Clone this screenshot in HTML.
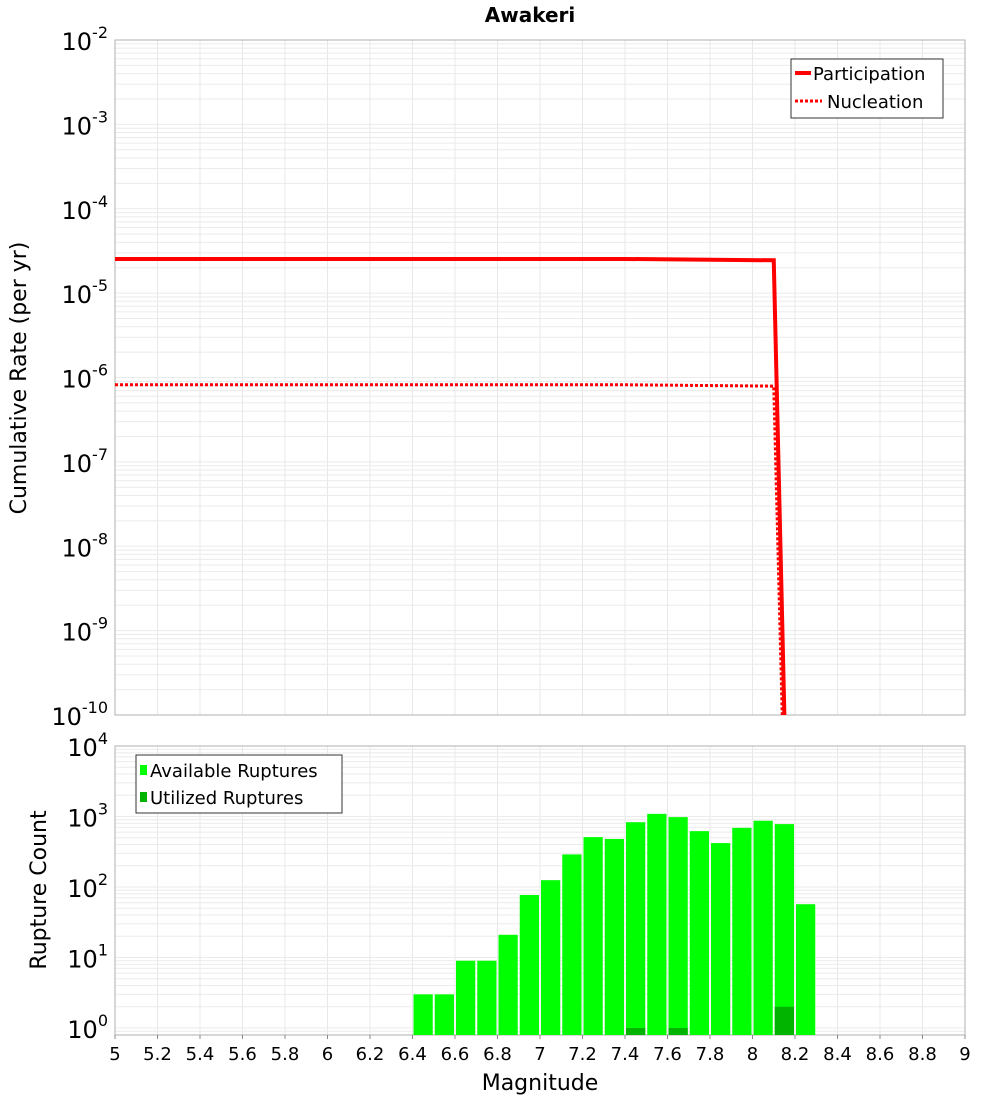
<!DOCTYPE html>
<html><head><meta charset="utf-8"><style>
body{margin:0;background:#fff;}
svg{display:block;font-family:"DejaVu Sans","Liberation Sans",sans-serif;}
</style></head><body>
<svg id="c" width="1000" height="1100" xmlns="http://www.w3.org/2000/svg">
<text x="530" y="22" text-anchor="middle" font-weight="bold" font-size="20">Awakeri</text>
<g id="topg"></g><g id="botg"></g>
</svg>
<script>
const xTicks=[5,5.2,5.4,5.6,5.8,6,6.2,6.4,6.6,6.8,7,7.2,7.4,7.6,7.8,8,8.2,8.4,8.6,8.8,9];
const partMag=[5,7.4,8.1,8.15];
const partRate=[2.54e-5,2.54e-5,2.45e-5,1e-10];
const nuclMag=[5,7.4,8.1,8.14];
const nuclRate=[8.2e-7,8.2e-7,7.9e-7,1e-10];
const binMag=[6.45,6.55,6.65,6.75,6.85,6.95,7.05,7.15,7.25,7.35,7.45,7.55,7.65,7.75,7.85,7.95,8.05,8.15,8.25];
const availCount=[3,3,9,9,21,77,125,290,510,480,830,1090,980,620,420,690,870,780,57];
const usedCount=[0,0,0,0,0,0,0,0,0,0,1,0,1,0,0,0,0,2,0];
const NS="http://www.w3.org/2000/svg";
const L=115,R=965;
const X=m=>L+(m-5)/4*(R-L);
const T0=40,T1=715,Ty=v=>T1-(Math.log10(v)+10)/8*(T1-T0);
const B0=746,B1=1035,By=v=>1028-Math.log10(v)*70.5;
function mk(p,tag,a,name,txt){const e=document.createElementNS(NS,tag);for(const k in a)e.setAttribute(k,a[k]);


if(txt!==undefined)e.textContent=txt;p.appendChild(e);return e;}
function sup(p,x,y,e,name){const t=mk(p,'text',{x:x,y:y,'text-anchor':'end','font-size':24},name);
 const a=document.createElementNS(NS,'tspan');a.textContent='10';t.appendChild(a);
 const b=document.createElementNS(NS,'tspan');b.setAttribute('dy','-12');b.setAttribute('font-size','16');b.textContent=String(e);t.appendChild(b);}
const topG=document.getElementById('topg'),botG=document.getElementById('botg');
function grid(g,y0,y1,yf,dmin,dmax){
 for(const m of xTicks)mk(g,'line',{x1:X(m),x2:X(m),y1:y0,y2:y1,stroke:'#e8e8e8'},'x-grid-line');
 for(let d=dmin;d<dmax;d++)for(let k=1;k<10;k++){const y=yf(k*Math.pow(10,d));if(y>=y0&&y<=y1)mk(g,'line',{x1:L,x2:R,y1:y,y2:y,stroke:'#ebebeb'},'y-grid-line');}
 mk(g,'rect',{x:L,y:y0,width:R-L,height:y1-y0,fill:'none',stroke:'#b0b0b0'},'plot-frame');
}
grid(topG,T0,T1,Ty,-10,-2);
grid(botG,B0,B1,By,-1,4);
for(let e=-10;e<=-2;e++)sup(topG,108,Ty(Math.pow(10,e))+10,e,'y-tick-label');
for(let e=0;e<=4;e++)sup(botG,108,By(Math.pow(10,e))+10,e,'y-tick-label');
mk(topG,'text',{x:26,y:378,'text-anchor':'middle','font-size':22,transform:'rotate(-90 26 378)'},'y-axis-title','Cumulative Rate (per yr)');
mk(botG,'text',{x:46,y:890,'text-anchor':'middle','font-size':22,transform:'rotate(-90 46 890)'},'y-axis-title','Rupture Count');
function pts(ms,rs){return ms.map((m,i)=>X(m)+','+Math.max(T0,Math.min(T1,Ty(rs[i])))).join(' ');}
mk(topG,'polyline',{points:pts(partMag,partRate),fill:'none',stroke:'#f00','stroke-width':4},'participation-line');
mk(topG,'polyline',{points:pts(nuclMag,nuclRate),fill:'none',stroke:'#f00','stroke-width':3,'stroke-dasharray':'3,2'},'nucleation-line');
mk(topG,'rect',{x:791,y:59,width:152,height:59,fill:'#fff',stroke:'#333'},'legend-box');
mk(topG,'line',{x1:795,x2:811,y1:73,y2:73,stroke:'#f00','stroke-width':4},'legend-participation-swatch');
mk(topG,'text',{x:813,y:80,'font-size':18},'legend-participation','Participation');
mk(topG,'line',{x1:795,x2:822,y1:101,y2:101,stroke:'#f00','stroke-width':3,'stroke-dasharray':'3,2'},'legend-nucleation-swatch');
mk(topG,'text',{x:827,y:108,'font-size':18},'legend-nucleation','Nucleation');
const bw=(X(5.1)-X(5))-2;
binMag.forEach((m,i)=>{const y=By(availCount[i]);mk(botG,'rect',{x:X(m)-bw/2,y:y,width:bw,height:B1-y,fill:'#00ff00'},'available-bar');
 if(usedCount[i]>0){const u=By(usedCount[i]);mk(botG,'rect',{x:X(m)-bw/2,y:u,width:bw,height:B1-u,fill:'#00b400'},'utilized-bar');}});
for(const m of xTicks){mk(botG,'line',{x1:X(m),x2:X(m),y1:B1,y2:B1+4,stroke:'#888'},'x-tick');
 mk(botG,'text',{x:X(m),y:1060,'text-anchor':'middle','font-size':18},'x-tick-label',String(m));}
mk(botG,'text',{x:540,y:1090,'text-anchor':'middle','font-size':22},'x-axis-title','Magnitude');
mk(botG,'rect',{x:136,y:755,width:206,height:58,fill:'#fff',stroke:'#333'},'legend-box');
mk(botG,'rect',{x:140,y:765,width:7,height:10,fill:'#00ff00'},'legend-available-swatch');
mk(botG,'text',{x:150,y:777,'font-size':18},'legend-available','Available Ruptures');
mk(botG,'rect',{x:140,y:792,width:7,height:10,fill:'#00b400'},'legend-utilized-swatch');
mk(botG,'text',{x:150,y:804,'font-size':18},'legend-utilized','Utilized Ruptures');
</script>
</body></html>
